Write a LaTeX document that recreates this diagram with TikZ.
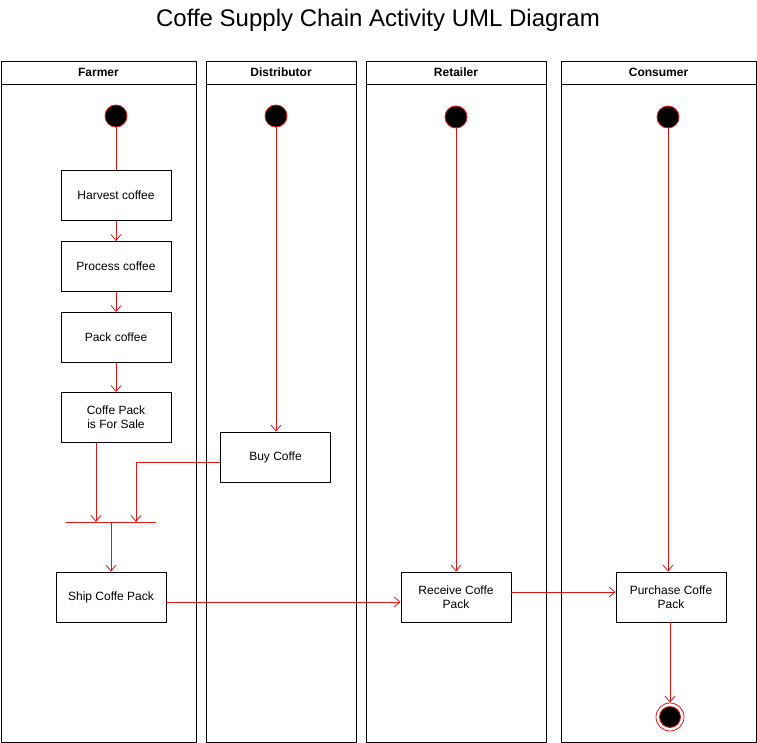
\documentclass[tikz,border=0pt]{standalone}
\usepackage{fontspec}
\setmainfont{Liberation Sans}
\usetikzlibrary{arrows.meta}
\definecolor{flowred}{RGB}{225,20,20}
\begin{document}
\begin{tikzpicture}[x=1pt,y=-1pt,
  lane/.style={draw=black,line width=0.8pt},
  act/.style={draw=black,line width=0.8pt,fill=white,minimum width=110pt,minimum height=50pt,align=center,font=\fontsize{12}{14}\selectfont,inner sep=0pt},
  init/.style={circle,draw=flowred,fill=black,line width=0.8pt,minimum size=22pt,inner sep=0pt},
  flow/.style={draw=flowred,line width=0.8pt,-{Straight Barb[length=6pt,width=10pt]}},
  plain/.style={draw=flowred,line width=0.8pt},
  hdr/.style={font=\fontsize{12}{14}\selectfont\bfseries}
]
\useasboundingbox (0,0) rectangle (757,743);
\node[font=\fontsize{24}{28}\selectfont] (title) at (378,20) {Coffe Supply Chain Activity UML Diagram};
% lanes
\foreach \nm/\xa/\xb in {Farmer/1/196,Distributor/206/356,Retailer/366/546,Consumer/561/756}{
  \draw[lane] (\xa,61) rectangle (\xb,742);
  \draw[lane] (\xa,84) -- (\xb,84);
  \node[hdr] (h\nm) at ({(\xa+\xb)/2},72.5) {\nm};
}
% initial nodes
\node[init] (s1) at (116,116) {};
\node[init] (s2) at (276,116) {};
\node[init] (s3) at (456,117) {};
\node[init] (s4) at (668,117) {};
% activities
\node[act] (harvest) at (116,195.5) {Harvest coffee};
\node[act] (process) at (116,266.5) {Process coffee};
\node[act] (pack) at (116,337.5) {Pack coffee};
\node[act] (sale) at (116,417.5) {Coffe Pack\\is For Sale};
\node[act] (buy) at (275.5,457) {Buy Coffe};
\node[act] (ship) at (111,597) {Ship Coffe Pack};
\node[act] (receive) at (456,597) {Receive Coffe\\Pack};
\node[act] (purchase) at (671,597) {Purchase Coffe\\Pack};
% join bar
\coordinate (barL) at (66,522);
\coordinate (barR) at (156,522);
\draw[plain] (barL) -- (barR);
\coordinate (bar1) at (96,522);
\coordinate (bar2) at (136,522);
\coordinate (bar3) at (111,522);
% final node
\node[circle,draw=flowred,line width=0.8pt,minimum size=28pt,inner sep=0pt,fill=white] (final) at (670,717) {};
\node[circle,draw=flowred,fill=black,line width=0.8pt,minimum size=21pt,inner sep=0pt] (finalin) at (670,717) {};
% flows
\draw[plain] (s1) -- (harvest);
\draw[flow] (harvest) -- (process);
\draw[flow] (process) -- (pack);
\draw[flow] (pack) -- (sale);
\draw[flow] (sale.south -| bar1) -- (bar1);
\draw[flow] ([yshift=-5pt]buy.west) -| (bar2);
\draw[flow] (bar3) -- (ship.north -| bar3);
\draw[flow] (s2) -- (s2 |- buy.north);
\draw[flow] (s3) -- (receive);
\draw[flow] (s4) -- (s4 |- purchase.north);
\draw[flow] ([yshift=-5pt]ship.east) -- ([yshift=-5pt]receive.west);
\draw[flow] ([yshift=5pt]receive.east) -- ([yshift=5pt]purchase.west);
\draw[flow] (purchase.south -| final) -- (final);
\end{tikzpicture}
\end{document}
